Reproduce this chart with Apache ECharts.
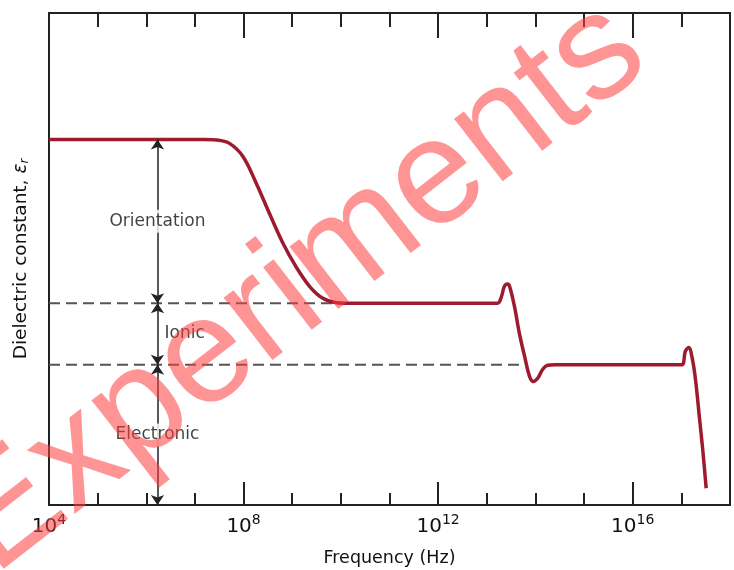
<!DOCTYPE html>
<html>
<head>
<meta charset="utf-8">
<script src="https://cdn.jsdelivr.net/npm/echarts@6/dist/echarts.min.js"></script>
<style>
  html, body { margin: 0; padding: 0; background: #fff; }
  #chart { width: 734px; height: 570px; }
</style>
</head>
<body>
<div id="chart"></div>
<script>
// Dielectric constant vs. frequency: x is log10(frequency in Hz), y in arbitrary units.
const curveFreqExp = [4, 7.2, 7.44, 7.71, 7.99, 8.26, 8.53, 8.81, 9.08, 9.36, 9.63, 9.91, 10.18,
  13.22, 13.30, 13.36, 13.43, 13.47, 13.57, 13.67, 13.78, 13.88, 13.96, 14.05, 14.15, 14.25, 14.4,
  17.0, 17.08, 17.15, 17.23, 17.30, 17.37, 17.44, 17.51];
const curveEps = [74.3, 74.3, 74.2, 73.5, 70.8, 65.4, 59.3, 53.2, 48.4, 44.4, 42.0, 41.1, 41.0,
  41.0, 42.3, 44.4, 44.9, 44.4, 40.3, 34.9, 30.1, 26.1, 25.1, 25.8, 27.6, 28.4, 28.5,
  28.5, 31.2, 32.0, 29.5, 24.7, 17.9, 11.2, 3.4];

// Polarization contributions, each spanning [bottom, top]
const levelNames = ['Orientation', 'Ionic', 'Electronic'];
const levelTop = [74.3, 41.0, 28.5];
const levelBottom = [41.0, 28.5, 0];
const arrowFreqExp = 6.23;

// Dashed reference levels and where they stop
const dashedLevels = [41.0, 28.5];
const dashedEnds = [9.9, 13.8];

const tickExponents = [4, 8, 12, 16];
const freqMin = 4, freqMax = 18;

const FONT = 'DejaVu Sans';
const INK = '#222';
const TEXT = '#111';

function freqAxis(position, interval, tickLen, showLabels) {
  return {
    type: 'value', position: position, min: freqMin, max: freqMax, interval: interval,
    axisLine: { show: true, onZero: false, lineStyle: { color: INK, width: 2 } },
    axisTick: { show: true, inside: true, length: tickLen, lineStyle: { color: INK, width: 2 } },
    splitLine: { show: false },
    axisLabel: showLabels ? {
      show: true, margin: 8,
      formatter: v => tickExponents.includes(v) ? '{b|10}{s|' + v + '}' : '',
      rich: {
        b: { fontFamily: FONT, fontSize: 20, color: TEXT, lineHeight: 24, verticalAlign: 'bottom' },
        s: { fontFamily: FONT, fontSize: 14, color: TEXT, verticalAlign: 'top' }
      }
    } : { show: false },
    name: showLabels ? 'Frequency (Hz)' : '',
    nameLocation: 'middle', nameGap: 44,
    nameTextStyle: { fontFamily: FONT, fontSize: 17.5, color: TEXT }
  };
}

const curveData = curveFreqExp.map((x, i) => [x, curveEps[i]]);

const dashedSeries = dashedLevels.map((lv, i) => ({
  type: 'line', silent: true, symbol: 'none', z: 2,
  data: [[freqMin, lv], [dashedEnds[i], lv]],
  lineStyle: { color: '#555', width: 2, type: [11, 6] }
}));

const arrowPairs = levelNames.map((n, i) => [
  { coord: [arrowFreqExp, levelTop[i]] },
  { coord: [arrowFreqExp, levelBottom[i]] }
]);

const labelData = levelNames.map((n, i) => {
  const mid = (levelTop[i] + levelBottom[i]) / 2;
  const side = n === 'Ionic';
  return {
    name: n,
    value: [arrowFreqExp, mid],
    label: side ? { position: 'right', distance: 7, backgroundColor: 'transparent', padding: 0 } : {}
  };
});

const chart = echarts.init(document.getElementById('chart'), null, { renderer: 'canvas' });
chart.setOption({
  animation: false,
  backgroundColor: '#fff',
  grid: { left: 49, right: 4, top: 13, bottom: 65, outerBoundsMode: 'none' },
  xAxis: [
    freqAxis('bottom', 1, 12, false),
    freqAxis('bottom', 4, 23, true),
    freqAxis('top', 1, 14, false),
    freqAxis('top', 4, 25, false)
  ],
  yAxis: [
    {
      type: 'value', position: 'left', min: 0, max: 100,
      axisLine: { show: true, onZero: false, lineStyle: { color: INK, width: 2 } },
      axisTick: { show: false }, axisLabel: { show: false }, splitLine: { show: false },
      name: 'Dielectric constant, {i|ε}{r|r}', nameLocation: 'middle', nameGap: 18,
      nameTextStyle: {
        fontFamily: FONT, fontSize: 18.5, color: TEXT,
        rich: {
          i: { fontFamily: FONT, fontSize: 18.5, fontStyle: 'italic', color: TEXT },
          r: { fontFamily: FONT, fontSize: 12, fontStyle: 'italic', color: TEXT, verticalAlign: 'bottom', lineHeight: 16 }
        }
      }
    },
    {
      type: 'value', position: 'right', min: 0, max: 100,
      axisLine: { show: true, onZero: false, lineStyle: { color: INK, width: 2 } },
      axisTick: { show: false }, axisLabel: { show: false }, splitLine: { show: false }
    }
  ],
  series: [
    ...dashedSeries,
    {
      type: 'line', name: 'εr', symbol: 'none', z: 3, smooth: 0.35,
      data: curveData,
      lineStyle: { color: '#9e1a2e', width: 3.5 },
      markLine: {
        silent: true, symbol: ['arrow', 'arrow'], symbolSize: 10,
        label: { show: false },
        lineStyle: { color: INK, width: 1.5, type: 'solid' },
        emphasis: { disabled: true },
        data: arrowPairs
      }
    },
    {
      type: 'scatter', symbolSize: 0, z: 6, silent: true,
      data: labelData,
      label: {
        show: true, position: 'inside', formatter: '{b}',
        fontFamily: FONT, fontSize: 17, color: TEXT,
        backgroundColor: '#fff', padding: [3, 2]
      }
    }
  ],
  graphic: [{
    type: 'text', z: 100, silent: true,
    x: 298, y: 288, rotation: 0.66,
    style: {
      text: 'Experiments',
      font: '150px "Liberation Sans", Arial, sans-serif',
      fill: 'rgba(255, 60, 60, 0.55)',
      align: 'center', verticalAlign: 'middle'
    }
  }]
});
</script>
</body>
</html>
